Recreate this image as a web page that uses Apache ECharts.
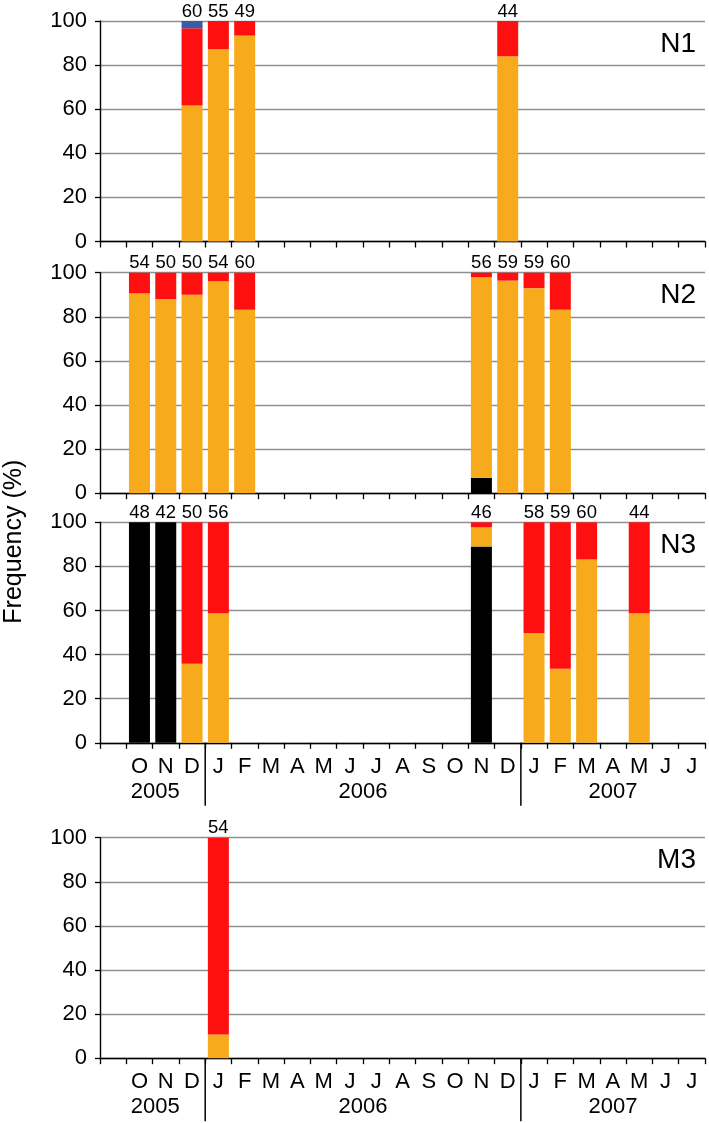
<!DOCTYPE html>
<html>
<head>
<meta charset="utf-8">
<script src="https://cdn.jsdelivr.net/npm/echarts@6/dist/echarts.min.js"></script>
<style>
html,body{margin:0;padding:0;background:#fff;}
#chart{width:709px;height:1123px;}
</style>
</head>
<body>
<div id="chart"></div>
<script>
const _ = null;
const months = ['', 'O','N','D','J','F','M','A','M','J','J','A','S','O','N','D','J','F','M','A','M','J','J'];
const panelNames = ['N1', 'N2', 'N3', 'M3'];
const yearLabels = ['2005', '2006', '2007'];
const yearSpans = [[0.2, 4], [4, 16], [16, 23]];
const yearBreaks = [4, 16];

// Panel N1
const n1Black  = [_,_,_,_,_,_,_,_,_,_,_,_,_,_,_,_,_,_,_,_,_,_,_];
const n1Orange = [_,_,_,61.7,87.3,93.4,_,_,_,_,_,_,_,_,_,84,_,_,_,_,_,_,_];
const n1Red    = [_,_,_,35,12.7,6.6,_,_,_,_,_,_,_,_,_,16,_,_,_,_,_,_,_];
const n1Blue   = [_,_,_,3.3,_,_,_,_,_,_,_,_,_,_,_,_,_,_,_,_,_,_,_];
const n1Count  = [_,_,_,60,55,49,_,_,_,_,_,_,_,_,_,44,_,_,_,_,_,_,_];

// Panel N2
const n2Black  = [_,_,_,_,_,_,_,_,_,_,_,_,_,_,7,_,_,_,_,_,_,_,_];
const n2Orange = [_,90.6,88,90,96.2,83.2,_,_,_,_,_,_,_,_,91,96.4,93,83.2,_,_,_,_,_];
const n2Red    = [_,9.4,12,10,3.8,16.8,_,_,_,_,_,_,_,_,2,3.6,7,16.8,_,_,_,_,_];
const n2Blue   = [_,_,_,_,_,_,_,_,_,_,_,_,_,_,_,_,_,_,_,_,_,_,_];
const n2Count  = [_,54,50,50,54,60,_,_,_,_,_,_,_,_,56,59,59,60,_,_,_,_,_];

// Panel N3
const n3Black  = [_,100,100,_,_,_,_,_,_,_,_,_,_,_,89,_,_,_,_,_,_,_,_];
const n3Orange = [_,_,_,35.8,58.7,_,_,_,_,_,_,_,_,_,8.7,_,49.8,33.6,83.2,_,58.8,_,_];
const n3Red    = [_,_,_,64.2,41.3,_,_,_,_,_,_,_,_,_,2.3,_,50.2,66.4,16.8,_,41.2,_,_];
const n3Blue   = [_,_,_,_,_,_,_,_,_,_,_,_,_,_,_,_,_,_,_,_,_,_,_];
const n3Count  = [_,48,42,50,56,_,_,_,_,_,_,_,_,_,46,_,58,59,60,_,44,_,_];

// Panel M3
const m3Black  = [_,_,_,_,_,_,_,_,_,_,_,_,_,_,_,_,_,_,_,_,_,_,_];
const m3Orange = [_,_,_,_,10.8,_,_,_,_,_,_,_,_,_,_,_,_,_,_,_,_,_,_];
const m3Red    = [_,_,_,_,89.2,_,_,_,_,_,_,_,_,_,_,_,_,_,_,_,_,_,_];
const m3Blue   = [_,_,_,_,_,_,_,_,_,_,_,_,_,_,_,_,_,_,_,_,_,_,_];
const m3Count  = [_,_,_,_,54,_,_,_,_,_,_,_,_,_,_,_,_,_,_,_,_,_,_];

const panels = [
  {black: n1Black, orange: n1Orange, red: n1Red, blue: n1Blue, count: n1Count, labels: false},
  {black: n2Black, orange: n2Orange, red: n2Red, blue: n2Blue, count: n2Count, labels: false},
  {black: n3Black, orange: n3Orange, red: n3Red, blue: n3Blue, count: n3Count, labels: true},
  {black: m3Black, orange: m3Orange, red: m3Red, blue: m3Blue, count: m3Count, labels: true}
];

const colors = {black: '#000000', orange: '#F6AA1C', red: '#FF1010', blue: '#3A5CA6'};
const FONT = '"Liberation Sans", Arial, Helvetica, sans-serif';

const gridTops = [21, 272.7, 522.3, 837.7];
const gridH = 220.5;
const gridLeft = 100;
const gridW = 605;

const chart = echarts.init(document.getElementById('chart'), null, {renderer: 'canvas'});

const grids = [], xAxes = [], yAxes = [], series = [], titles = [];
panels.forEach((p, gi) => {
  grids.push({left: gridLeft, top: gridTops[gi], width: gridW, height: gridH, containLabel: false});
  xAxes.push({
    type: 'category', gridIndex: gi, data: months, boundaryGap: true,
    axisLine: {show: true, lineStyle: {color: '#000', width: 1.4}},
    axisTick: {show: true, interval: 0, alignWithLabel: false, length: 6, inside: false, lineStyle: {color: '#000', width: 1.3}},
    axisLabel: {show: p.labels, interval: 0, fontSize: 22, color: '#000', fontFamily: FONT, margin: 13},
    splitLine: {show: false}
  });
  yAxes.push({
    type: 'value', gridIndex: gi, min: 0, max: 100, interval: 20,
    axisLine: {show: true, lineStyle: {color: '#000', width: 1.4}},
    axisTick: {show: true, length: 5, lineStyle: {color: '#000', width: 1.3}},
    axisLabel: {fontSize: 22, color: '#000', fontFamily: FONT, margin: 13},
    splitLine: {show: true, lineStyle: {color: '#8f8f8f', width: 1.3}}
  });
  ['black', 'orange', 'red', 'blue'].forEach(k => {
    series.push({
      type: 'bar', name: k, stack: 'p' + gi, xAxisIndex: gi, yAxisIndex: gi,
      data: p[k], barWidth: 21, itemStyle: {color: colors[k]}, silent: true, animation: false
    });
  });
  const totals = p.count.map((c, i) => c == null ? null :
    [i, ['black', 'orange', 'red', 'blue'].reduce((s, k) => s + (p[k][i] || 0), 0)]);
  series.push({
    type: 'scatter', xAxisIndex: gi, yAxisIndex: gi, symbol: 'rect', symbolSize: [0.01, 0.01],
    itemStyle: {color: '#000', opacity: 1}, animation: false, z: 5, silent: true,
    data: totals.filter(d => d),
    label: {
      show: true, position: 'top', distance: 0, fontSize: 18.5, color: '#000', opacity: 1,
      textBorderWidth: 0, fontFamily: FONT,
      formatter: (prm) => String(p.count[prm.value[0]])
    }
  });
  titles.push({
    text: panelNames[gi], right: 13, top: gridTops[gi] + 9, padding: 0,
    textStyle: {fontSize: 28, fontWeight: 'normal', color: '#000', fontFamily: FONT, lineHeight: 28}
  });
});

chart.setOption({
  animation: false,
  title: titles,
  grid: grids, xAxis: xAxes, yAxis: yAxes, series: series
});

const graphics = [{
  type: 'text', x: 14.5, y: 541.7, rotation: Math.PI / 2,
  style: {text: 'Frequency (%)', fontSize: 25, fontFamily: FONT, fill: '#000', textAlign: 'center', textVerticalAlign: 'middle'}
}];
panels.forEach((p, gi) => {
  if (!p.labels) return;
  const c0 = chart.convertToPixel({xAxisIndex: gi}, 0);
  const c1 = chart.convertToPixel({xAxisIndex: gi}, 1);
  const w = c1 - c0;
  const edge = k => c0 - w / 2 + k * w;
  const y0 = chart.convertToPixel({yAxisIndex: gi}, 0);
  yearLabels.forEach((t, j) => {
    graphics.push({
      type: 'text', x: (edge(yearSpans[j][0]) + edge(yearSpans[j][1])) / 2, y: y0 + 49,
      style: {text: t, fontSize: 22, fontFamily: FONT, fill: '#000', textAlign: 'center', textVerticalAlign: 'middle'}
    });
  });
  yearBreaks.forEach(k => {
    graphics.push({
      type: 'line', shape: {x1: edge(k), y1: y0, x2: edge(k), y2: y0 + 63},
      style: {stroke: '#000', lineWidth: 1.5}
    });
  });
});
chart.setOption({graphic: graphics});
</script>
</body>
</html>
